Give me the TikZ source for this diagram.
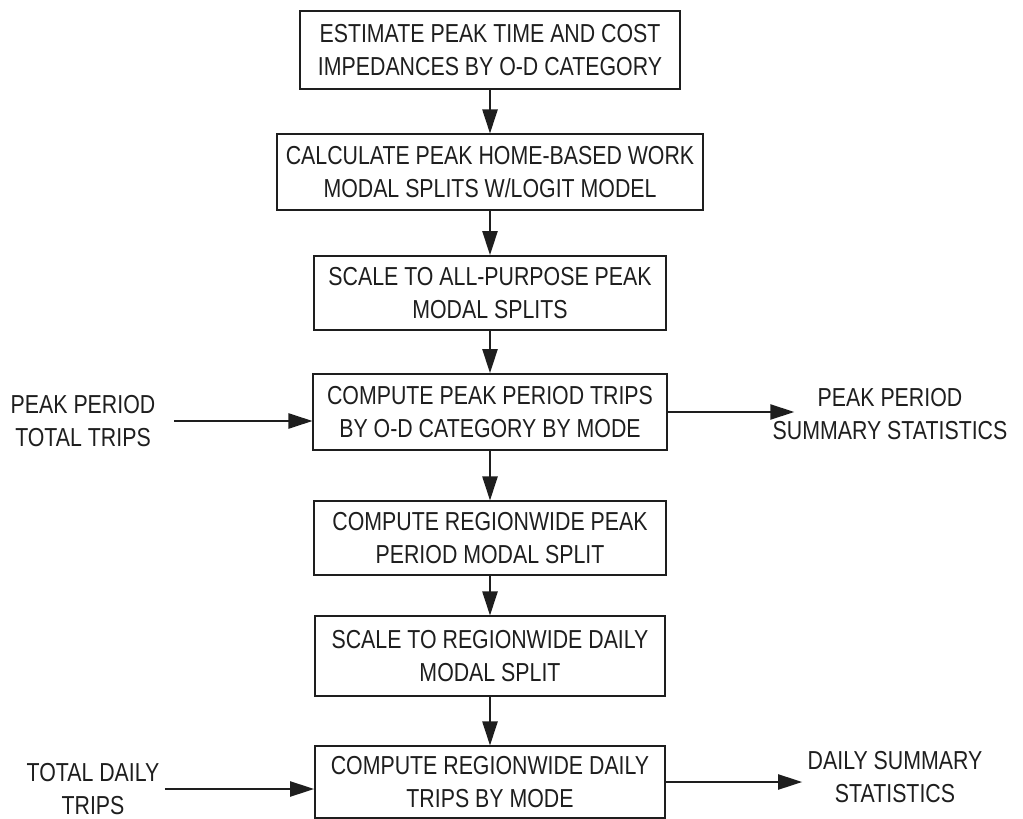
\documentclass[tikz,border=0pt]{standalone}
\usepackage{fontspec}
\setmainfont[FakeStretch=0.82]{Liberation Sans}
\usetikzlibrary{arrows.meta, positioning}
\definecolor{ink}{HTML}{1E1E1E}
\tikzset{
  every picture/.style={line width=1.3pt, draw=ink},
  box/.style={draw=ink, align=center, inner sep=4pt, text=ink},
  arrow/.style={-{Triangle[length=0.6cm, width=0.38cm]}, draw=ink, line width=1.2pt},
  note/.style={align=center, text=ink},
}

\begin{document}
\begin{tikzpicture}[every node/.append style={font=\fontsize{18.5}{23}\selectfont}]
  \useasboundingbox (0,0) rectangle (25.575,-20.475);
  % main column
  \node[box, minimum width=9.5cm,  minimum height=1.93cm] (est)   at (12.25,-1.25)  {ESTIMATE PEAK TIME AND COST\\IMPEDANCES BY O-D CATEGORY};
  \node[box, minimum width=10.65cm, minimum height=1.88cm] (calc) at (12.25,-4.3)   {CALCULATE PEAK HOME-BASED WORK\\MODAL SPLITS W/LOGIT MODEL};
  \node[box, minimum width=8.8cm,  minimum height=1.85cm] (scale) at (12.25,-7.325) {SCALE TO ALL-PURPOSE PEAK\\MODAL SPLITS};
  \node[box, minimum width=8.83cm, minimum height=1.9cm]  (peak)  at (12.25,-10.3)  {COMPUTE PEAK PERIOD TRIPS\\BY O-D CATEGORY BY MODE};
  \node[box, minimum width=8.78cm, minimum height=1.83cm] (rwpk)  at (12.25,-13.45) {COMPUTE REGIONWIDE PEAK\\PERIOD MODAL SPLIT};
  \node[box, minimum width=8.73cm, minimum height=1.98cm] (rwdy)  at (12.25,-16.4)  {SCALE TO REGIONWIDE DAILY\\MODAL SPLIT};
  \node[box, minimum width=8.75cm, minimum height=1.78cm] (daily) at (12.25,-19.55) {COMPUTE REGIONWIDE DAILY\\TRIPS BY MODE};
  % side inputs and outputs
  \node[note] (pkin)  at (2.075,-10.525)  {PEAK PERIOD\\TOTAL TRIPS};
  \node[note] (pkout) at (22.25,-10.35)   {PEAK PERIOD\\SUMMARY STATISTICS};
  \node[note] (dyin)  at (2.325,-19.725)  {TOTAL DAILY\\TRIPS};
  \node[note] (dyout) at (22.375,-19.425) {DAILY SUMMARY\\STATISTICS};
  \draw[arrow] (est) -- (calc); \draw[arrow] (calc) -- (scale); \draw[arrow] (scale) -- (peak);
  \draw[arrow] (peak) -- (rwpk); \draw[arrow] (rwpk) -- (rwdy); \draw[arrow] (rwdy) -- (daily);
  \draw[arrow, shorten <=0.33cm] (pkin.east) -- (pkin.east -| peak.west);
  \draw[arrow] (peak.east) -- ([xshift=0.68cm]pkout.west |- peak.east);
  \draw[arrow] (dyin.east) -- (dyin.east -| daily.west);
  \draw[arrow] (daily.east) -- (daily.east -| dyout.west);
\end{tikzpicture}
\end{document}
